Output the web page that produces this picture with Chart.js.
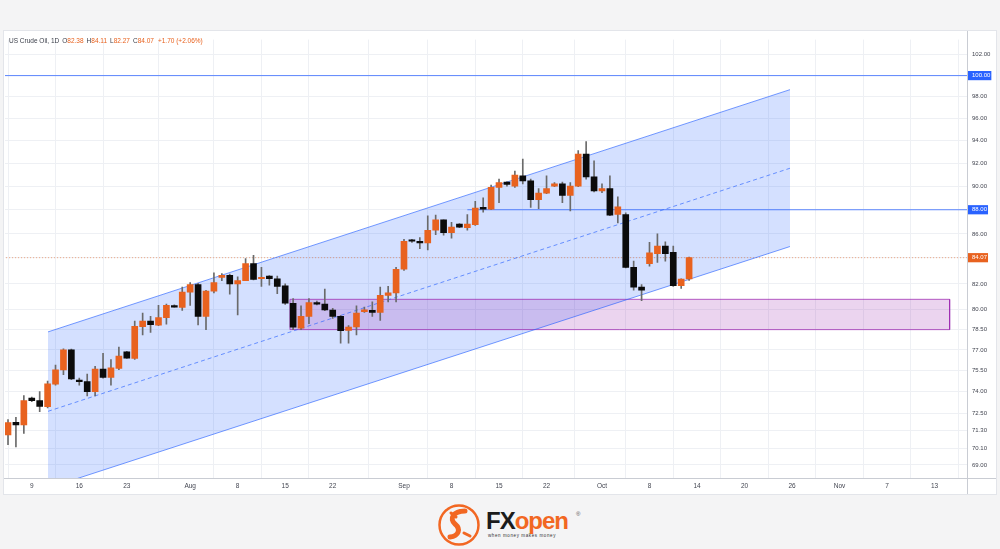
<!DOCTYPE html>
<html>
<head>
<meta charset="utf-8">
<script src="https://cdn.jsdelivr.net/npm/chart.js@4.4.1/dist/chart.umd.min.js"></script>
<style>
  html, body { margin: 0; padding: 0; }
  body {
    width: 1000px; height: 549px; background: #f4f4f5;
    position: relative; overflow: hidden;
    font-family: "Liberation Sans", Arial, sans-serif;
  }
  #panel {
    position: absolute; left: 4px; top: 31px; width: 992px; height: 463px;
    background: #fff; box-shadow: 0 0 0 1px #e3e5ea;
  }
  #legend {
    position: absolute; left: 9px; top: 37px; font-size: 6.5px; line-height: 8px;
    color: #3a3e49; white-space: nowrap;
  }
  #legend span { margin-left: 3px; }
  #legend span.v { margin-left: 0; color: #e8621f; }
  #legend span.first { margin-left: 0; }
  #logo { position: absolute; left: 437px; top: 503px; width: 150px; height: 44px; }
  #logo svg { position: absolute; left: 0; top: 0; }
  #brand {
    position: absolute; left: 49px; top: 6px; font-size: 24px; font-weight: bold;
    line-height: 24px; letter-spacing: -1px;
  }
  #brand .fx { color: #1c1c1c; }
  #brand .op { color: #f26722; }
  #reg { position: absolute; left: 139px; top: 8px; font-size: 6px; color: #555; }
  #tag {
    position: absolute; left: 51px; top: 30px; font-size: 4.5px; color: #333;
    letter-spacing: 0.6px; white-space: nowrap;
  }
</style>
</head>
<body>
<div id="panel"><canvas id="chart"></canvas></div>
<div id="legend"></div>
<div id="logo">
  <svg width="46" height="44" viewBox="0 0 46 44">
    <circle cx="22" cy="22" r="19.5" fill="none" stroke="#f26722" stroke-width="2.5"/>
    <path d="M28 8 C16 8 12 16 18 21 C24 26 22 33 13 34" fill="none" stroke="#f26722" stroke-width="5" stroke-linecap="round"/>
    <path d="M14 10 L19 14 M27 30 L33 33" stroke="#f26722" stroke-width="3" stroke-linecap="round"/>
  </svg>
  <div id="brand"><span class="fx">FX</span><span class="op">open</span></div>
  <div id="reg">®</div>
  <div id="tag">when money makes money</div>
</div>
<script>
// daily candles, index 0 = first bar on the left
const opens = [71.00, 71.87, 71.69, 73.55, 73.37, 72.94, 74.53, 75.55, 77.00, 74.80,
  74.70, 74.00, 75.60, 75.00, 75.65, 76.86, 76.37, 78.73, 79.15, 78.83,
  79.40, 80.30, 80.18, 81.35, 81.95, 79.50, 81.43, 82.50, 82.66, 82.00,
  82.25, 83.60, 82.40, 82.60, 82.40, 81.85, 80.50, 78.60, 79.50, 80.55,
  80.43, 79.98, 79.50, 78.45, 78.70, 79.85, 79.95, 79.80, 81.10, 81.30,
  83.15, 85.50, 85.40, 85.27, 86.30, 87.15, 86.10, 86.80, 86.50, 86.75,
  88.20, 88.05, 89.90, 90.35, 90.00, 90.90, 90.45, 88.85, 89.40, 90.00,
  90.20, 89.20, 90.00, 92.80, 90.80, 89.60, 89.80, 87.60, 87.60, 83.30,
  81.75, 83.60, 84.40, 85.00, 84.50, 81.85, 82.38];
const highs = [72.06, 72.20, 73.72, 73.62, 74.00, 74.74, 75.90, 77.08, 77.05, 74.95,
  75.25, 75.80, 76.75, 76.30, 77.20, 76.90, 79.15, 79.74, 79.50, 80.33,
  80.43, 80.37, 81.75, 82.10, 82.05, 81.50, 82.87, 82.80, 82.77, 82.55,
  84.00, 84.25, 83.30, 82.65, 82.60, 82.00, 80.85, 80.30, 80.85, 80.67,
  81.60, 80.10, 79.55, 78.80, 80.30, 80.20, 80.60, 81.75, 81.80, 83.30,
  85.55, 85.55, 85.70, 87.50, 87.55, 87.15, 86.95, 86.85, 87.60, 88.70,
  89.00, 90.10, 90.60, 90.37, 91.30, 92.35, 90.60, 89.80, 90.90, 90.30,
  90.35, 90.30, 93.10, 93.90, 92.20, 90.20, 90.90, 89.10, 87.75, 83.80,
  81.95, 85.30, 86.00, 85.35, 85.00, 82.40, 84.11];
const lows = [70.35, 70.20, 71.10, 73.30, 72.60, 72.85, 74.46, 75.20, 74.85, 74.46,
  73.70, 73.70, 74.95, 74.46, 75.57, 76.37, 76.30, 78.10, 78.30, 78.80,
  78.90, 80.20, 79.95, 80.33, 78.85, 78.50, 81.30, 82.25, 81.20, 79.60,
  82.25, 82.30, 81.80, 81.90, 81.24, 80.40, 78.50, 78.50, 78.95, 80.37,
  79.93, 79.35, 77.50, 77.50, 78.10, 79.80, 79.50, 79.20, 80.60, 80.60,
  83.05, 85.30, 84.80, 84.70, 85.93, 85.90, 85.65, 86.50, 86.30, 86.70,
  87.80, 88.00, 88.60, 90.00, 89.90, 90.20, 88.20, 88.10, 89.35, 89.95,
  88.60, 87.90, 89.95, 90.60, 89.50, 89.45, 87.50, 86.90, 83.25, 81.50,
  80.70, 83.40, 83.70, 83.80, 81.80, 81.65, 82.27];
const closes = [71.84, 71.69, 73.37, 73.37, 72.96, 74.55, 75.55, 77.00, 74.90, 74.70,
  74.00, 75.60, 75.00, 75.70, 76.55, 76.40, 78.75, 79.15, 78.87, 79.40,
  80.33, 80.20, 81.35, 81.95, 79.50, 81.43, 82.10, 82.66, 82.00, 82.25,
  83.60, 82.35, 82.45, 82.40, 81.80, 80.50, 78.68, 79.50, 80.55, 80.42,
  79.98, 79.50, 78.42, 78.70, 79.74, 80.00, 79.80, 81.10, 81.30, 83.15,
  85.40, 85.40, 85.27, 86.30, 87.15, 86.10, 86.55, 86.55, 86.80, 88.15,
  88.05, 89.90, 90.30, 90.15, 90.95, 90.45, 88.85, 89.40, 89.80, 90.20,
  89.20, 90.00, 92.80, 90.80, 89.60, 89.80, 87.55, 88.25, 83.30, 81.75,
  81.50, 84.47, 85.00, 84.40, 81.85, 82.37, 84.07];

// time axis labels (bar index where each label sits)
const xTickPos = [3, 9, 15, 23, 29, 35, 41, 50, 56, 62, 68, 75, 81, 87, 93, 99, 105, 111, 117];
const xTickLabels = ['9', '16', '23', 'Aug', '8', '15', '22', 'Sep', '8', '15', '22', 'Oct', '8', '14', '20', '26', 'Nov', '7', '13'];

// price axis labels
const lastClose = closes[closes.length - 1];
const yTicks = [69, 70.1, 71.3, 72.5, 74, 75.5, 77, 78.5, 80, 82, lastClose, 86, 88, 90, 92, 94, 96, 98, 100, 102];

// drawings
const channelX = [5.05, 98.74];
const channelUpper = [78.33, 98.67];
const channelMid = [72.62, 91.55];
const channelLower = [67.5, 84.97];
const zoneX = [35.6, 118.9];
const zonePrice = [78.5, 80.8];
const level100 = 100;
const level88 = 88;
const level88Start = 58;

const UP = '#e8621f';
const DOWN = '#0b0b0b';
const CH = 'rgba(41, 98, 255, 0.65)';

// header text
const n = closes.length;
const chg = lastClose - closes[n - 2];
const pct = chg / closes[n - 2] * 100;
const sign = v => (v >= 0 ? '+' : '') + v.toFixed(2);
document.getElementById('legend').innerHTML =
  '<span class="first">US Crude Oil, 1D</span>' +
  '<span>O</span><span class="v">' + opens[n - 1].toFixed(2) + '</span>' +
  '<span>H</span><span class="v">' + highs[n - 1].toFixed(2) + '</span>' +
  '<span>L</span><span class="v">' + lows[n - 1].toFixed(2) + '</span>' +
  '<span>C</span><span class="v">' + lastClose.toFixed(2) + '</span>' +
  '<span class="v" style="margin-left:4px">' + sign(chg) + ' (' + sign(pct) + '%)</span>';

const idx = closes.map((c, i) => i);
const line = (pts, color, extra) => Object.assign({
  type: 'line', data: pts, borderColor: color, borderWidth: 1,
  pointRadius: 0, fill: false, order: 2, tension: 0
}, extra || {});

const highlight = {};
highlight[level100] = '#2962ff';
highlight[level88] = '#2962ff';
highlight[lastClose] = '#e8621f';

const frame = {
  id: 'frame',
  afterDraw(chart) {
    const { ctx, chartArea, width, height } = chart;
    ctx.save();
    ctx.strokeStyle = '#c9ccd3';
    ctx.lineWidth = 1;
    ctx.beginPath();
    ctx.moveTo(chartArea.right + 0.5, 0);
    ctx.lineTo(chartArea.right + 0.5, height);
    ctx.moveTo(0, chartArea.bottom + 0.5);
    ctx.lineTo(width, chartArea.bottom + 0.5);
    ctx.stroke();
    ctx.restore();
  }
};

Chart.defaults.font.family = '"Liberation Sans", Arial, sans-serif';

new Chart(document.getElementById('chart'), {
  type: 'bar',
  data: {
    datasets: [
      {
        label: 'body',
        data: idx.map(i => ({ x: i, y: [opens[i], closes[i]] })),
        backgroundColor: idx.map(i => closes[i] >= opens[i] ? UP : DOWN),
        barThickness: 6, minBarLength: 1.5, grouped: false, order: 0
      },
      {
        label: 'wick',
        data: idx.map(i => ({ x: i, y: [lows[i], highs[i]] })),
        backgroundColor: '#6a6a6a',
        barThickness: 1, grouped: false, order: 1
      },
      line([{ x: channelX[0], y: channelUpper[0] }, { x: channelX[1], y: channelUpper[1] }], CH),
      line([{ x: channelX[0], y: channelMid[0] }, { x: channelX[1], y: channelMid[1] }], CH, { borderDash: [4, 3] }),
      line([{ x: channelX[0], y: channelLower[0] }, { x: channelX[1], y: channelLower[1] }], CH),
      line([{ x: -1, y: level100 }, { x: 125, y: level100 }], 'rgba(41, 98, 255, 0.75)'),
      line([{ x: level88Start, y: level88 }, { x: 125, y: level88 }], 'rgba(41, 98, 255, 0.75)'),
      line([{ x: -1, y: lastClose }, { x: 125, y: lastClose }], 'rgba(232, 98, 31, 0.55)', { borderDash: [1, 2] }),
      // zone border
      line([{ x: zoneX[0], y: zonePrice[0] }, { x: zoneX[0], y: zonePrice[1] }, { x: zoneX[1], y: zonePrice[1] },
            { x: zoneX[1], y: zonePrice[0] }, { x: zoneX[0], y: zonePrice[0] }], 'rgba(156, 39, 176, 0.75)', { order: 3 }),
      // zone fill
      line([{ x: zoneX[0], y: zonePrice[1] }, { x: zoneX[1], y: zonePrice[1] }], 'transparent',
           { fill: { value: zonePrice[0] }, backgroundColor: 'rgba(156, 39, 176, 0.2)', order: 4 }),
      // channel fill, upper edge filled down to dataset 4 (lower edge)
      line([{ x: channelX[0], y: channelUpper[0] }, { x: channelX[1], y: channelUpper[1] }], 'transparent',
           { fill: 4, backgroundColor: 'rgba(41, 98, 255, 0.2)', order: 6 })
    ]
  },
  options: {
    responsive: true,
    maintainAspectRatio: false,
    animation: false,
    layout: { padding: { left: 1, top: 0, right: 0, bottom: 0 } },
    plugins: { legend: { display: false }, tooltip: { enabled: false } },
    scales: {
      x: {
        type: 'linear',
        min: -0.38,
        max: 121.09,
        offset: false,
        afterBuildTicks: s => { s.ticks = xTickPos.map(v => ({ value: v })); },
        afterFit: s => { s.height = 16; },
        grid: { color: '#eef0f4', drawTicks: false },
        border: { display: false },
        ticks: {
          autoSkip: false, maxRotation: 0, padding: 4,
          color: '#434651', font: { size: 6.5 },
          callback: (v, i) => xTickLabels[i]
        }
      },
      y: {
        type: 'logarithmic',
        position: 'right',
        min: 68.15,
        max: 103.49,
        afterBuildTicks: s => { s.ticks = yTicks.map(v => ({ value: v })); },
        afterFit: s => { s.width = 29; },
        grid: { color: '#eef0f4', drawTicks: false },
        border: { display: false },
        ticks: {
          autoSkip: false, padding: 5,
          font: { size: 6 },
          color: ctx => highlight[ctx.tick.value] ? '#ffffff' : '#434651',
          showLabelBackdrop: ctx => !!highlight[ctx.tick.value],
          backdropColor: ctx => highlight[ctx.tick.value] || 'transparent',
          backdropPadding: { left: 5, right: 1, top: 1, bottom: 1 },
          callback: v => Number(v).toFixed(2)
        }
      }
    }
  },
  plugins: [frame]
});
</script>
</body>
</html>
